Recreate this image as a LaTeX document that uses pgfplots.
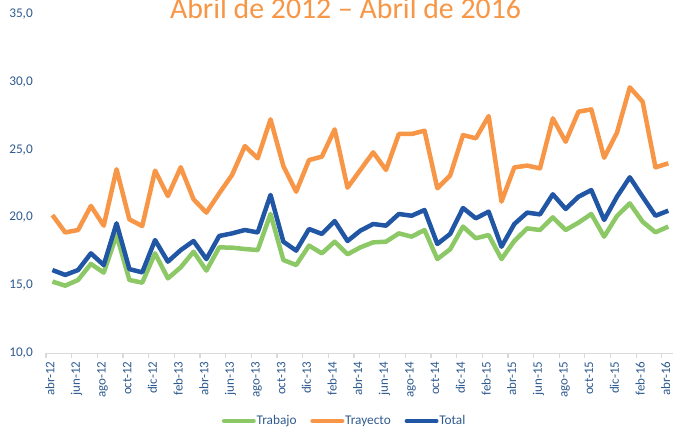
\documentclass[border=0pt]{standalone}
\usepackage{pgfplots}
\usepackage{pgfplotstable}
\pgfplotsset{compat=1.18}
\usepackage{fontspec}
\setmainfont{Carlito}
\definecolor{cgreen}{HTML}{8CC866}
\definecolor{corange}{HTML}{F79646}
\definecolor{cblue}{HTML}{2156A5}
\definecolor{labblue}{HTML}{2F5A8E}
\definecolor{tickgray}{HTML}{D9D9D9}
\pgfplotstableread{
i trabajo trayecto total
0 15.28 20.18 16.13
1 14.98 18.90 15.77
2 15.40 19.08 16.13
3 16.58 20.85 17.36
4 15.94 19.40 16.50
5 18.70 23.55 19.57
6 15.40 19.86 16.20
7 15.20 19.37 15.96
8 17.36 23.45 18.34
9 15.52 21.58 16.75
10 16.33 23.70 17.60
11 17.48 21.34 18.27
12 16.09 20.36 16.94
13 17.80 21.78 18.64
14 17.78 23.13 18.83
15 17.68 25.26 19.08
16 17.60 24.36 18.90
17 20.26 27.23 21.66
18 16.87 23.79 18.22
19 16.50 21.90 17.56
20 17.93 24.23 19.15
21 17.36 24.48 18.79
22 18.22 26.49 19.74
23 17.29 22.20 18.27
24 17.80 23.50 19.03
25 18.17 24.80 19.52
26 18.22 23.50 19.40
27 18.83 26.15 20.26
28 18.59 26.15 20.13
29 19.08 26.39 20.55
30 16.94 22.15 18.05
31 17.66 23.10 18.79
32 19.33 26.07 20.70
33 18.47 25.83 19.94
34 18.71 27.47 20.43
35 16.94 21.17 17.85
36 18.27 23.69 19.52
37 19.20 23.82 20.36
38 19.08 23.62 20.23
39 20.01 27.30 21.71
40 19.08 25.58 20.63
41 19.62 27.79 21.53
42 20.26 27.96 22.02
43 18.59 24.40 19.82
44 20.11 26.25 21.53
45 21.04 29.58 22.96
46 19.69 28.53 21.53
47 18.91 23.69 20.13
48 19.33 23.99 20.50
}\datatable
\begin{document}
\begin{tikzpicture}
\begin{axis}[
  scale only axis,
  width=628.7bp, height=339.5bp,
  xmin=-0.5, xmax=48.5, ymin=10, ymax=35,
  axis x line*=bottom, axis y line*=left,
  x axis line style={draw=tickgray, line width=1.2bp},
  y axis line style={draw=none},
  ytick={10,15,...,35},
  y tick style={draw=none},
  yticklabel style={font=\fontsize{13.3bp}{16bp}\selectfont, text=labblue, anchor=east, inner sep=0pt, xshift=-13bp,
    /pgf/number format/fixed, /pgf/number format/fixed zerofill, /pgf/number format/precision=1, /pgf/number format/use comma},
  /pgf/number format/assume math mode=true,
  xtick={0,2,...,48},
  xticklabels={abr-12,jun-12,ago-12,oct-12,dic-12,feb-13,abr-13,jun-13,ago-13,oct-13,dic-13,feb-14,abr-14,jun-14,ago-14,oct-14,dic-14,feb-15,abr-15,jun-15,ago-15,oct-15,dic-15,feb-16,abr-16},
  minor xtick={-0.5,1.5,...,47.5},
  major x tick style={draw=none},
  minor x tick style={draw=tickgray, line width=1.2bp},
  major tick length=0pt,
  minor tick length=5bp,
  tick align=outside,
  xticklabel style={font=\fontsize{13bp}{16bp}\selectfont, text=labblue, yshift=-8bp, xshift=-1.5bp, rotate=90, anchor=east, inner sep=0pt, text height=0.68em, text depth=0pt},
  clip=false,
  legend columns=3,
  legend style={draw=none, fill=none, at={(0.474,-0.1994)}, anchor=center,
    font=\fontsize{13.3bp}{16bp}\selectfont, text=labblue, inner sep=0pt,
    nodes={inner sep=0.8bp},
    /tikz/every even column/.append style={column sep=13bp}},
  legend image code/.code={\draw[#1, line cap=round, line width=4.5bp] (2.25bp,0bp) -- (31.75bp,0bp);},
]
\addplot[draw=cgreen, line width=4.5bp, line join=round] table[x=i, y=trabajo] {\datatable};
\addlegendentry{Trabajo}
\addplot[draw=corange, line width=4.5bp, line join=round] table[x=i, y=trayecto] {\datatable};
\addlegendentry{Trayecto}
\addplot[draw=cblue, line width=4.5bp, line join=round] table[x=i, y=total] {\datatable};
\addlegendentry{Total}
\end{axis}
\node[anchor=base, text=corange, font=\fontsize{29.8bp}{34bp}\selectfont, inner sep=0pt] at (299.5bp,334.3bp) {Abril de 2012 – Abril de 2016};
\pgfresetboundingbox
\path[use as bounding box] (-46bp,-77.7bp) rectangle (627bp,353.3bp);
\end{tikzpicture}
\end{document}
